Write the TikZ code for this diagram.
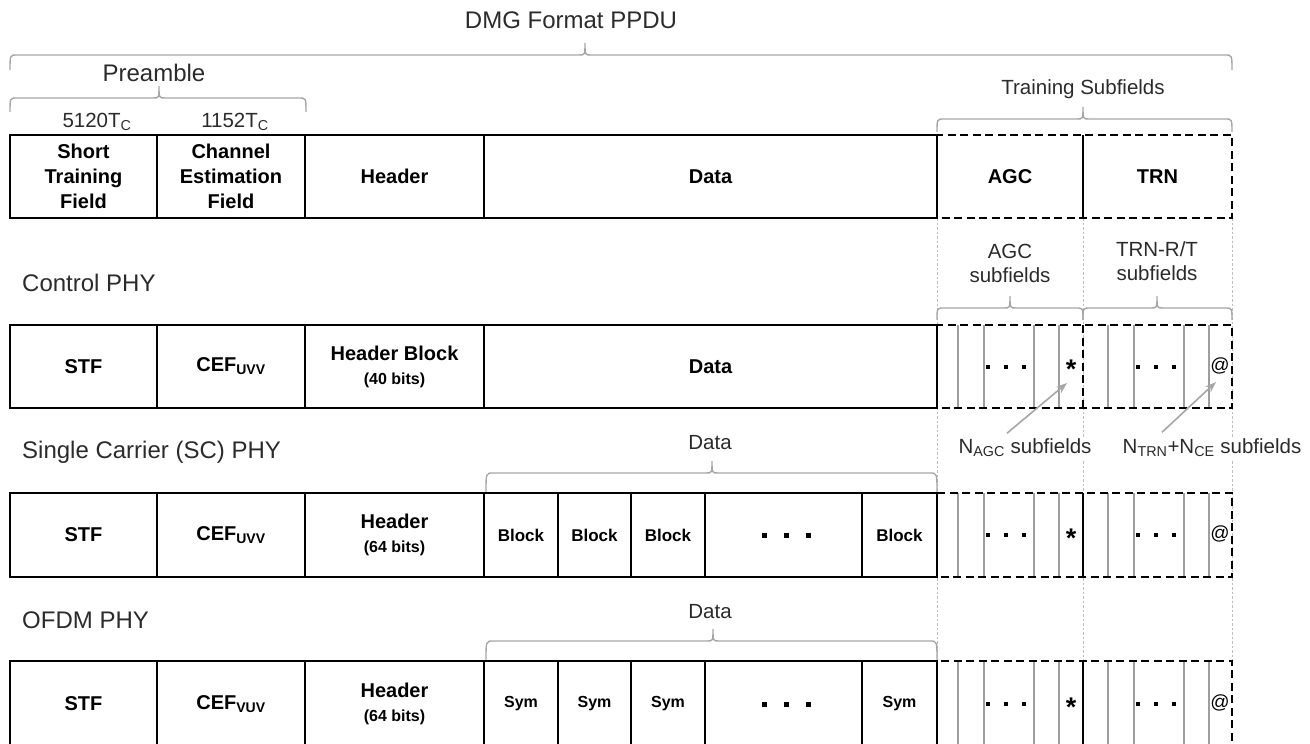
\documentclass[tikz,border=0pt]{standalone}
\usepackage{fontspec}
\setmainfont{Liberation Sans}
\usetikzlibrary{arrows.meta}
\definecolor{bracegray}{HTML}{A6A6A6}
\definecolor{labelgray}{HTML}{2B2B2B}
\definecolor{linegray}{HTML}{9E9E9E}
\definecolor{guidegray}{HTML}{BDBDBD}
\tikzset{
  cellbox/.style={draw=black, line width=2.6pt, inner sep=0pt, align=center,
    font=\bfseries\fontsize{20}{24}\selectfont},
  dashbox/.style={draw=black, line width=2.6pt, dash pattern=on 8pt off 4.5pt},
  soliddiv/.style={draw=black, line width=2.6pt},
  dashdiv/.style={draw=black, line width=2pt, dash pattern=on 8pt off 4.5pt},
  thinline/.style={draw=linegray, line width=1.1pt},
  guide/.style={draw=guidegray, line width=0.9pt, dash pattern=on 2.5pt off 2pt},
  bracepath/.style={draw=bracegray, line width=1.4pt},
  title/.style={font=\fontsize{24}{28}\selectfont, text=labelgray, inner sep=0pt},
  sublabel/.style={font=\fontsize{20.5}{24}\selectfont, text=labelgray, inner sep=0pt, align=center},
  arr/.style={draw=bracegray, line width=1.6pt, -{Stealth[length=11pt,width=8pt]}},
  glyph/.style={inner sep=0pt},
}
\newcommand\mycell[5][]{\node[cellbox,#1, minimum width={(#4-#3)*1pt}, minimum height={(\yB-\yA)*1pt}] (#2) at ({(#3+#4)/2},{(\yA+\yB)/2}) {#5};}
\newcommand\mybrace[5]{\draw[bracepath] (#1,#5) .. controls (#1,#4) .. ({#1+7},#4) -- ({#3-6},#4) .. controls (#3,#4) .. (#3,{#4-12}) .. controls (#3,#4) .. ({#3+6},#4) -- ({#2-7},#4) .. controls (#2,#4) .. (#2,#5);}
\newcommand\threedots[4]{\foreach \k in {-1,0,1} {\fill ({#1+\k*#3-#4/2},{#2-#4/2}) rectangle ++(#4,#4);}}
\newcommand\trainrow[4]{%
  \foreach \x in {958,984,1034,1059,1108,1134,1184,1209} {\draw[thinline] (\x,#2) -- (\x,#3);}
  \threedots{1006}{(#2+#3)/2}{18}{4}
  \threedots{1156}{(#2+#3)/2}{18}{4}
  \node[glyph, font=\bfseries\fontsize{27}{27}\selectfont] (star#1) at (1071,{(#2+#3)/2+3}) {*};
  \node[glyph, font=\fontsize{19}{19}\selectfont] (at#1) at (1220,{(#2+#3)/2-1}) {@};
  \draw[#4] (1083,#2) -- (1083,#3);
  \draw[dashbox] (937,#2) rectangle (1232,#3);}
\begin{document}
\begin{tikzpicture}[x=1pt,y=-1pt]
\useasboundingbox (0,0) rectangle (1310,744);
% vertical guides
\foreach \x in {937,1083,1232} {\draw[guide] (\x,218) -- (\x,661);}
% titles and labels
\node[title] (dmg) at (571,20) {DMG Format PPDU};
\node[title] (pre) at (154,73) {Preamble};
\node[sublabel] (t1) at (97,122) {5120T\textsubscript{C}};
\node[sublabel] (t2) at (235,122) {1152T\textsubscript{C}};
\node[sublabel] (ts) at (1083,89) {Training Subfields};
\node[title, anchor=west] (ctrl) at (22,283) {Control PHY};
\node[title, anchor=west] (sc) at (22,452) {Single Carrier (SC) PHY};
\node[title, anchor=west] (ofdm) at (22,620) {OFDM PHY};
\node[sublabel] (agcs) at (1010,263) {AGC\\subfields};
\node[sublabel] (trns) at (1157,261) {TRN-R/T\\subfields};
\node[sublabel] (d3) at (710,443) {Data};
\node[sublabel] (d4) at (710,612) {Data};
% braces
\mybrace{10}{1232}{585}{55}{70}
\mybrace{10}{306}{159}{98}{112}
\mybrace{937}{1232}{1083}{119}{132}
\mybrace{937}{1083}{1010}{308}{320}
\mybrace{1083}{1232}{1157}{308}{320}
\mybrace{486}{937}{712}{473}{492}
\mybrace{486}{937}{713}{641}{660}
% Row 1
\def\yA{135}\def\yB{218}
\mycell[font=\bfseries\fontsize{20}{25}\selectfont]{stf1}{10}{157}{Short\\Training\\Field}
\mycell[font=\bfseries\fontsize{20}{25}\selectfont]{cef1}{157}{305}{Channel\\Estimation\\Field}
\mycell{hdr1}{305}{484}{Header}
\mycell{dat1}{484}{937}{Data}
\node[cellbox, draw=none] (agc1) at (1010,176.5) {AGC};
\node[cellbox, draw=none] (trn1) at (1157.5,176.5) {TRN};
\draw[soliddiv] (1083,135) -- (1083,218);
\draw[dashbox] (937,135) rectangle (1232,218);
% Row 2
\def\yA{325}\def\yB{408}
\mycell{stf2}{10}{157}{STF}
\mycell{cef2}{157}{305}{CEF\textsubscript{UVV}}
\mycell{hdr2}{305}{484}{Header Block\\{\fontsize{16}{18}\selectfont(40 bits)}}
\mycell{dat2}{484}{937}{Data}
\trainrow{2}{325}{408}{dashdiv}
% Row 3
\def\yA{493}\def\yB{577}
\mycell{stf3}{10}{157}{STF}
\mycell{cef3}{157}{305}{CEF\textsubscript{UVV}}
\mycell{hdr3}{305}{484}{Header\\{\fontsize{16}{18}\selectfont(64 bits)}}
\mycell[font=\bfseries\fontsize{17}{20}\selectfont]{b31}{484}{558}{Block}
\mycell[font=\bfseries\fontsize{17}{20}\selectfont]{b32}{558}{631}{Block}
\mycell[font=\bfseries\fontsize{17}{20}\selectfont]{b33}{631}{705}{Block}
\mycell{b3d}{705}{862}{}
\mycell[font=\bfseries\fontsize{17}{20}\selectfont]{b34}{862}{937}{Block}
\threedots{786}{535}{22}{5}
\trainrow{3}{493}{577}{soliddiv}
% Row 4
\def\yA{661}\def\yB{747}
\mycell{stf4}{10}{157}{STF}
\mycell{cef4}{157}{305}{CEF\textsubscript{VUV}}
\mycell{hdr4}{305}{484}{Header\\{\fontsize{16}{18}\selectfont(64 bits)}}
\mycell[font=\bfseries\fontsize{16}{20}\selectfont]{s41}{484}{558}{Sym}
\mycell[font=\bfseries\fontsize{16}{20}\selectfont]{s42}{558}{631}{Sym}
\mycell[font=\bfseries\fontsize{16}{20}\selectfont]{s43}{631}{705}{Sym}
\mycell{s4d}{705}{862}{}
\mycell[font=\bfseries\fontsize{16}{20}\selectfont]{s44}{862}{937}{Sym}
\threedots{786}{704}{22}{5}
\trainrow{4}{661}{747}{soliddiv}
% annotation labels and arrows
\node[sublabel, fill=white, inner sep=2pt] (nagc) at (1025,448) {N\textsubscript{AGC} subfields};
\node[sublabel, fill=white, inner sep=2pt] (ntrn) at (1212,448) {N\textsubscript{TRN}+N\textsubscript{CE} subfields};
\draw[arr] ([shift={(-18,-3.5)}]nagc.north) -- ([shift={(-4,13.5)}]star2.center);
\draw[arr] ([shift={(-50,-4.5)}]ntrn.north) -- ([shift={(-4,16.5)}]at2.center);
\end{tikzpicture}
\end{document}
